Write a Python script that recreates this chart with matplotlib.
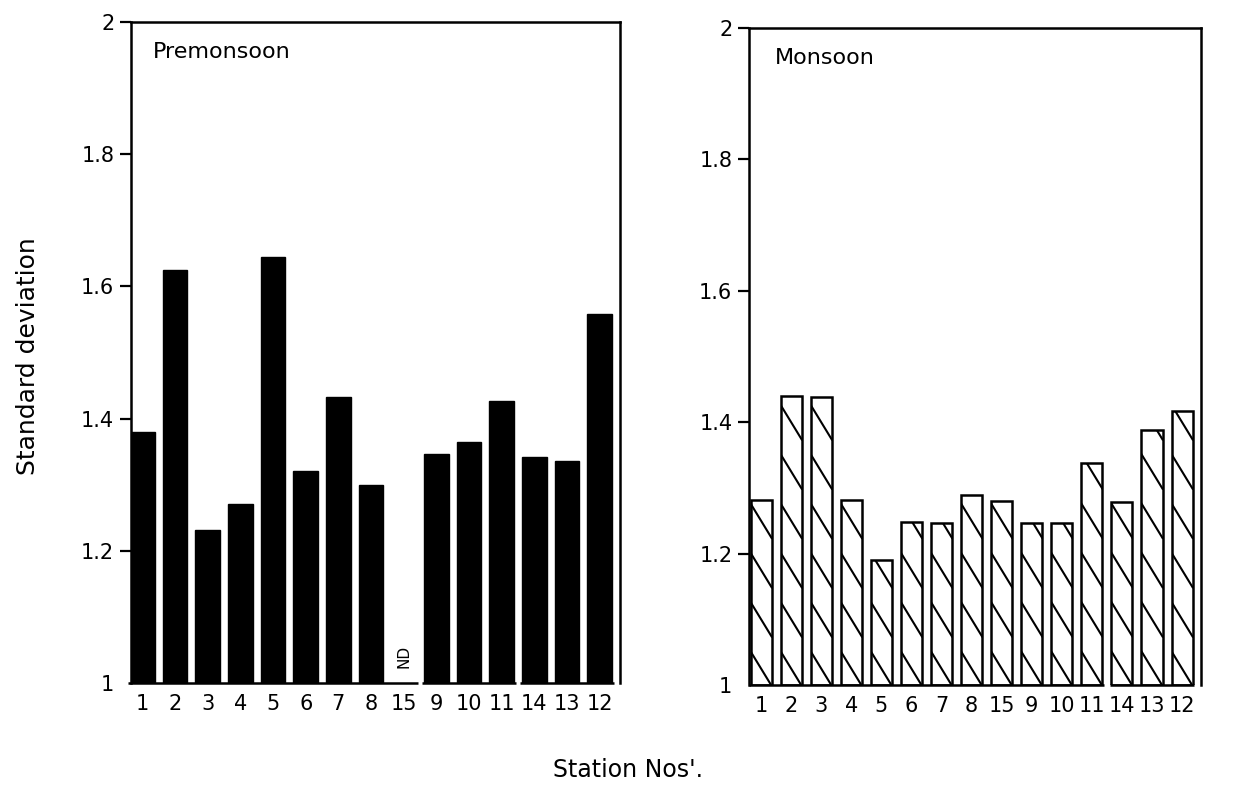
import numpy as np
import matplotlib.pyplot as plt

# Station order along the x axis (same in both panels)
stations = ['1', '2', '3', '4', '5', '6', '7', '8', '15', '9', '10', '11', '14', '13', '12']

# Standard deviation (station 15 premonsoon: no data)
premonsoon = [1.38, 1.625, 1.232, 1.27, 1.645, 1.32, 1.433, 1.30, np.nan,
              1.346, 1.365, 1.426, 1.342, 1.336, 1.558]
monsoon = [1.281, 1.44, 1.439, 1.281, 1.191, 1.248, 1.247, 1.289, 1.28,
           1.247, 1.246, 1.338, 1.278, 1.388, 1.417]

yticks = [1, 1.2, 1.4, 1.6, 1.8, 2]
ytick_labels = ['1', '1.2', '1.4', '1.6', '1.8', '2']

plt.rcParams['font.family'] = 'DejaVu Sans'

fig = plt.figure(figsize=(12.53, 7.91), dpi=100)
ax1 = fig.add_axes([0.1045, 0.1365, 0.390, 0.836])
ax2 = fig.add_axes([0.5978, 0.134, 0.3607, 0.8306])


def style_axes(ax, xlim, groups, pos, width):
    ax.set_xlim(*xlim)
    ax.set_ylim(1, 2)
    for s in ['left', 'top', 'right']:
        ax.spines[s].set_linewidth(1.8)
    ax.spines['bottom'].set_visible(False)
    ax.set_yticks(yticks)
    ax.set_yticklabels(ytick_labels)
    ax.tick_params(axis='y', direction='out', length=8, width=1.6, labelsize=15, pad=4)
    ax.yaxis.get_major_ticks()[0].tick1line.set_visible(False)
    ax.set_xticks(pos)
    ax.set_xticklabels(stations)
    ax.tick_params(axis='x', length=0, labelsize=15, pad=8)
    # baseline drawn in pieces, like the original
    for a, b in groups:
        ax.hlines(1, pos[a] - width / 2 - 0.05, pos[b] + width / 2 + 0.05,
                  color='black', linewidth=1.8, clip_on=False)


# --- Premonsoon ---
pos = np.arange(len(stations))
vals1 = np.array(premonsoon)
ok = ~np.isnan(vals1)
w1 = 0.76
ax1.bar(pos[ok], vals1[ok] - 1, bottom=1, width=w1, color='black', edgecolor='black')
style_axes(ax1, (-0.35, 14.61), [(0, 8), (9, 11), (12, 14)], pos, w1)
for i in pos[~ok]:
    ax1.text(i, 1.04, 'ND', rotation=90, ha='center', va='center', fontsize=11)
ax1.text(0.045, 0.955, 'Premonsoon', transform=ax1.transAxes, fontsize=16,
         ha='left', va='center')

# --- Monsoon ---
vals2 = np.array(monsoon)
w2 = 0.7
bars = ax2.bar(pos, vals2 - 1, bottom=1, width=w2, color='white',
               edgecolor='black', linewidth=1.8, zorder=2)
# sparse, steep "\" hatching clipped inside each bar
slope = 0.075
step = 0.075
for rect in bars:
    x0 = rect.get_x()
    x1 = x0 + rect.get_width()
    for c in np.arange(0.8, 3.4, step):
        ln, = ax2.plot([x0, x1], [c - slope * x0, c - slope * x1],
                       color='black', linewidth=1.5, zorder=3)
        ln.set_clip_path(rect)
style_axes(ax2, (-0.4, 14.63), [(0, 11), (12, 14)], pos, w2)
ax2.text(0.058, 0.955, 'Monsoon', transform=ax2.transAxes, fontsize=16,
         ha='left', va='center')

fig.text(0.022, 0.55, 'Standard deviation', rotation=90, ha='center', va='center',
         fontsize=18)
fig.text(0.501, 0.027, "Station Nos'.", ha='center', va='center', fontsize=17)

fig.savefig('out.png', dpi=100)
